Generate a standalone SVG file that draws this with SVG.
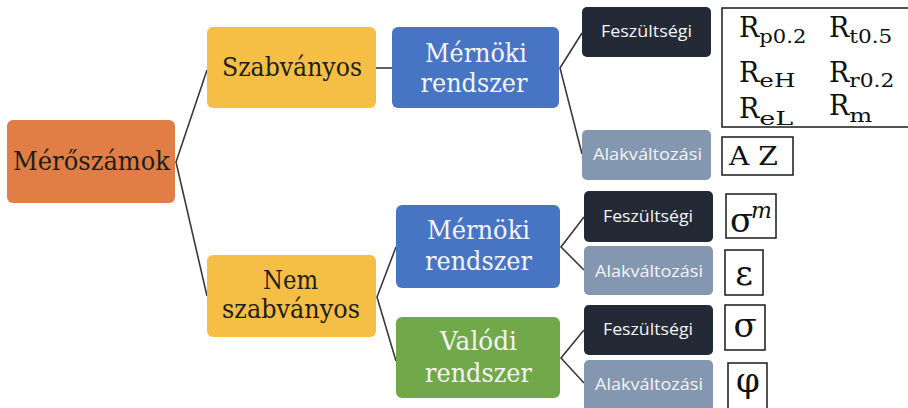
<svg xmlns="http://www.w3.org/2000/svg" width="908" height="408" viewBox="0 0 908 408">
<style>
.ser{font-family:"DejaVu Serif","Liberation Serif",serif;font-size:26.5px;text-anchor:middle}
.san{font-family:"Open Sans","Liberation Sans",sans-serif;font-size:17px;text-anchor:middle;fill:#F4F4F4}
.dk{fill:#1E1E1E}
.lt{fill:#F4F4F4}
.conn{stroke:#3A3A3A;stroke-width:1.6;fill:none}
.box{fill:#FFFFFF;stroke:#1A1A1A;stroke-width:1.5}
.m{font-family:"DejaVu Serif","Liberation Serif",serif;fill:#111}
.orange{fill:#E07E45}
.yellow{fill:#F5BE44}
.blue{fill:#4874C4}
.green{fill:#71A84A}
.dark{fill:#232A36}
.grey{fill:#8497B0}
</style>
<rect width="908" height="408" fill="#FFFFFF"/>
<g id="connectors">
<polyline class="conn" points="207,70 176,162 207,296"/>
<line class="conn" x1="376" y1="68" x2="392" y2="68"/>
<polyline class="conn" points="582,33 560,68 582,154"/>
<polyline class="conn" points="396,247 377,297 396,361"/>
<polyline class="conn" points="584,217 561,247 584,270"/>
<polyline class="conn" points="584,330 561,358 584,383"/>
</g>
<g id="n-merosz">
<rect class="orange" x="7" y="120" width="168" height="83" rx="6"/>
<text class="ser dk" x="91.5" y="170" textLength="157" lengthAdjust="spacingAndGlyphs">Mérőszámok</text>
</g>
<g id="n-szab">
<rect class="yellow" x="207" y="27" width="169" height="81" rx="6"/>
<text class="ser dk" x="292" y="76" textLength="140" lengthAdjust="spacingAndGlyphs">Szabványos</text>
</g>
<g id="n-nemszab">
<rect class="yellow" x="207" y="255" width="169" height="82" rx="6"/>
<text class="ser dk" x="290.5" y="289" textLength="55" lengthAdjust="spacingAndGlyphs">Nem</text>
<text class="ser dk" x="291" y="318" textLength="138" lengthAdjust="spacingAndGlyphs">szabványos</text>
</g>
<g id="n-mern1">
<rect class="blue" x="392" y="27" width="167" height="81" rx="6"/>
<text class="ser lt" x="476" y="62" textLength="102" lengthAdjust="spacingAndGlyphs">Mérnöki</text>
<text class="ser lt" x="474" y="92" textLength="107" lengthAdjust="spacingAndGlyphs">rendszer</text>
</g>
<g id="n-mern2">
<rect class="blue" x="396" y="205" width="164" height="83" rx="6"/>
<text class="ser lt" x="478.5" y="239" textLength="103" lengthAdjust="spacingAndGlyphs">Mérnöki</text>
<text class="ser lt" x="478.5" y="270" textLength="107" lengthAdjust="spacingAndGlyphs">rendszer</text>
</g>
<g id="n-valodi">
<rect class="green" x="396" y="317" width="164" height="81" rx="6"/>
<text class="ser lt" x="478.5" y="350" textLength="77" lengthAdjust="spacingAndGlyphs">Valódi</text>
<text class="ser lt" x="478.5" y="382" textLength="107" lengthAdjust="spacingAndGlyphs">rendszer</text>
</g>
<g id="n-fesz1">
<rect class="dark" x="582" y="7" width="129" height="50" rx="5"/>
<text class="san" x="646.5" y="37" textLength="91" lengthAdjust="spacingAndGlyphs">Feszültségi</text>
</g>
<g id="n-alak1">
<rect class="grey" x="582" y="130" width="129" height="50" rx="5"/>
<text class="san" x="647.5" y="160" textLength="109" lengthAdjust="spacingAndGlyphs">Alakváltozási</text>
</g>
<g id="n-fesz2">
<rect class="dark" x="584" y="191" width="129" height="51" rx="5"/>
<text class="san" x="648" y="222" textLength="90" lengthAdjust="spacingAndGlyphs">Feszültségi</text>
</g>
<g id="n-alak2">
<rect class="grey" x="584" y="246" width="129" height="49" rx="5"/>
<text class="san" x="649" y="277" textLength="108" lengthAdjust="spacingAndGlyphs">Alakváltozási</text>
</g>
<g id="n-fesz3">
<rect class="dark" x="584" y="305" width="129" height="50" rx="5"/>
<text class="san" x="648" y="335" textLength="90" lengthAdjust="spacingAndGlyphs">Feszültségi</text>
</g>
<g id="n-alak3">
<rect class="grey" x="584" y="360" width="129" height="52" rx="5"/>
<text class="san" x="649" y="390" textLength="108" lengthAdjust="spacingAndGlyphs">Alakváltozási</text>
</g>
<g id="n-rbox">
<rect class="box" x="722" y="8" width="190" height="119"/>
<text class="m" font-size="27" x="739" y="37">R<tspan font-size="19" dy="6" textLength="47" lengthAdjust="spacingAndGlyphs">p0.2</tspan></text>
<text class="m" font-size="27" x="829" y="37">R<tspan font-size="19" dy="6" textLength="43" lengthAdjust="spacingAndGlyphs">t0.5</tspan></text>
<text class="m" font-size="27" x="739" y="82">R<tspan font-size="19" dy="5" textLength="36" lengthAdjust="spacingAndGlyphs">eH</tspan></text>
<text class="m" font-size="27" x="829" y="82">R<tspan font-size="19" dy="5" textLength="45" lengthAdjust="spacingAndGlyphs">r0.2</tspan></text>
<text class="m" font-size="27" x="739" y="118">R<tspan font-size="19" dy="7" textLength="34" lengthAdjust="spacingAndGlyphs">eL</tspan></text>
<text class="m" font-size="27" x="829" y="115">R<tspan font-size="19" dy="7" textLength="23" lengthAdjust="spacingAndGlyphs">m</tspan></text>
</g>
<g id="n-az">
<rect class="box" x="722" y="137" width="71" height="38"/>
<text class="m" font-size="26" x="729" y="165" textLength="49" lengthAdjust="spacingAndGlyphs">A Z</text>
</g>
<g id="n-sigmam">
<rect class="box" x="726" y="194" width="50" height="44"/>
<text class="m" font-size="34" x="730" y="232">σ</text>
<text class="m" font-size="22" font-style="italic" x="751" y="218">m</text>
</g>
<g id="n-eps">
<rect class="box" x="725" y="250" width="38" height="45"/>
<text class="m" font-size="34" x="744" y="285" text-anchor="middle">ε</text>
</g>
<g id="n-sigma">
<rect class="box" x="725" y="305" width="40" height="45"/>
<text class="m" font-size="34" x="745" y="337" text-anchor="middle">σ</text>
</g>
<g id="n-phi">
<rect class="box" x="728" y="363" width="39" height="50"/>
<text class="m" font-size="34" x="748" y="392" text-anchor="middle">φ</text>
</g>
</svg>
